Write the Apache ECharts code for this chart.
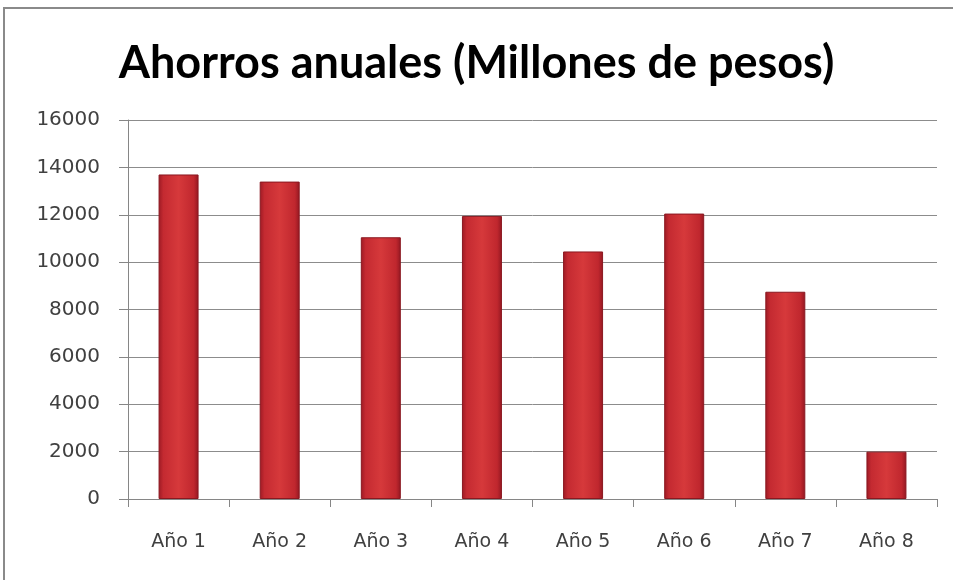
<!DOCTYPE html>
<html>
<head>
<meta charset="utf-8">
<script src="https://cdn.jsdelivr.net/npm/echarts@6/dist/echarts.min.js"></script>
<style>html,body{margin:0;padding:0;background:#fff}#c{width:953px;height:580px}</style>
</head>
<body>
<div id="c"></div>
<script>
const titleText = 'Ahorros anuales (Millones de pesos)';
const categories = ['Año 1','Año 2','Año 3','Año 4','Año 5','Año 6','Año 7','Año 8'];
const values = [13700, 13400, 11050, 11950, 10450, 12050, 8750, 2000];
const yTicks = [0, 2000, 4000, 6000, 8000, 10000, 12000, 14000, 16000];

const chart = echarts.init(document.getElementById('c'), null, {renderer:'canvas'});
const labelFont = '"DejaVu Sans", sans-serif';
chart.setOption({
  backgroundColor: '#ffffff',
  animation: false,
  graphic: [{
    type: 'rect', shape: {x: 4, y: 8, width: 1000, height: 600},
    style: {fill: 'none', stroke: '#8a8a8a', lineWidth: 2}, z: 0
  }],
  title: {
    text: titleText, left: 'center', top: 36,
    textStyle: {fontFamily: 'Lato, sans-serif', fontWeight: 'bold', fontSize: 45, color: '#000'}
  },
  grid: {left: 128, right: 16, top: 120, bottom: 81, containLabel: false},
  xAxis: {
    type: 'category', data: categories,
    axisLine: {lineStyle: {color: '#868686', width: 1}},
    axisTick: {show: true, length: 8, lineStyle: {color: '#868686'}, alignWithLabel: false},
    axisLabel: {color: '#404040', fontSize: 19, fontFamily: labelFont, margin: 34}
  },
  yAxis: {
    type: 'value', min: yTicks[0], max: yTicks[yTicks.length-1], interval: 2000,
    axisLine: {show: true, lineStyle: {color: '#868686', width: 1}},
    axisTick: {show: true, length: 9, lineStyle: {color: '#868686'}},
    splitLine: {lineStyle: {color: '#8c8c8c', width: 1}},
    axisLabel: {color: '#404040', fontSize: 20, fontFamily: labelFont, margin: 28,
      formatter: v => String(v)}
  },
  series: [{
    type: 'bar', data: values, barWidth: 40,
    itemStyle: {
      color: new echarts.graphic.LinearGradient(0, 0, 1, 0, [
        {offset: 0, color: '#9c1a24'},
        {offset: 0.12, color: '#c42a31'},
        {offset: 0.5, color: '#d6393b'},
        {offset: 0.88, color: '#c0272e'},
        {offset: 1, color: '#921721'}
      ]),
      borderColor: '#8a1820', borderWidth: 1
    }
  }]
});
</script>
</body>
</html>
